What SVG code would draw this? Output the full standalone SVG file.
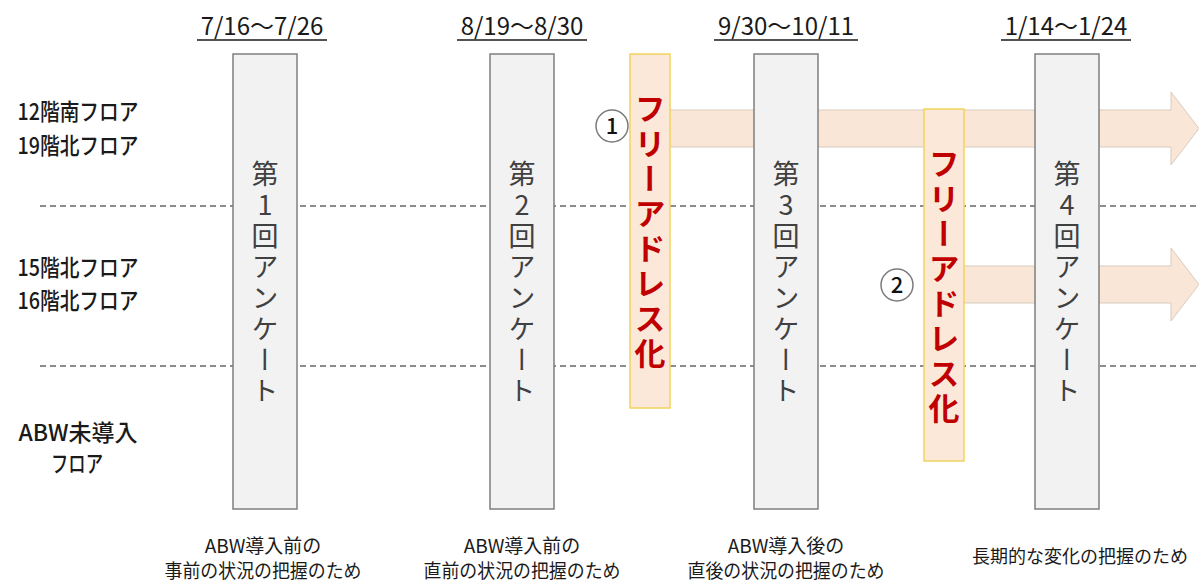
<svg xmlns="http://www.w3.org/2000/svg" width="1199" height="583" viewBox="0 0 1199 583">
<style>
text{font-family:"Noto Sans CJK JP","Noto Sans",sans-serif;}
.lbl{font-size:23px;font-weight:500;fill:#1a1a1a;text-anchor:middle;}
.date{font-size:24px;fill:#1a1a1a;text-anchor:middle;}
.bot{font-size:19px;fill:#1a1a1a;text-anchor:middle;}
.dash{stroke:#8c8c8c;stroke-width:2;stroke-dasharray:6 4;fill:none;}
.survey rect{fill:#f2f2f2;stroke:#7f7f7f;stroke-width:1.5;}
.survey text{font-size:27px;fill:#404040;writing-mode:vertical-rl;text-orientation:upright;text-anchor:middle;letter-spacing:4px;}
.free rect{fill:#fbe8d9;stroke:#f2d35c;stroke-width:1.5;}
.free text{font-size:31px;font-weight:bold;fill:#c00000;writing-mode:vertical-rl;text-orientation:upright;text-anchor:middle;letter-spacing:4px;}
.arrow{fill:#fae6d6;stroke:#d8cbbf;stroke-width:1;}
.num circle{fill:#fff;stroke:#7a7a7a;stroke-width:1.5;}
.num text{font-size:22px;font-weight:500;fill:#111;text-anchor:middle;}
</style>
<g id="grid">
<line class="dash" x1="40" y1="206" x2="1199" y2="206"/>
<line class="dash" x1="40" y1="366" x2="1199" y2="366"/>
</g>
<g id="row-labels">
<text class="lbl" x="78" y="120" textLength="121" lengthAdjust="spacingAndGlyphs">12階南フロア</text>
<text class="lbl" x="78" y="154" textLength="121" lengthAdjust="spacingAndGlyphs">19階北フロア</text>
<text class="lbl" x="78" y="276" textLength="121" lengthAdjust="spacingAndGlyphs">15階北フロア</text>
<text class="lbl" x="78" y="309" textLength="121" lengthAdjust="spacingAndGlyphs">16階北フロア</text>
<text class="lbl" x="78" y="441" textLength="119" lengthAdjust="spacingAndGlyphs">ABW未導入</text>
<text class="lbl" x="77" y="472" textLength="52" lengthAdjust="spacingAndGlyphs">フロア</text>
</g>
<g id="connectors">
<path class="arrow" d="M660,110 H1171 V92 L1199,128.5 L1171,165 V147 H660 Z"/>
<path class="arrow" d="M955,266 H1171 V248 L1199,284.5 L1171,321 V303 H955 Z"/>
</g>
<g id="dates">
<text class="date" x="262" y="35">7/16～7/26</text>
<line x1="197" y1="40" x2="327" y2="40" stroke="#1a1a1a" stroke-width="1.5"/>
<text class="date" x="522" y="35">8/19～8/30</text>
<line x1="457" y1="40" x2="587" y2="40" stroke="#1a1a1a" stroke-width="1.5"/>
<text class="date" x="786" y="35">9/30～10/11</text>
<line x1="714" y1="40" x2="858" y2="40" stroke="#1a1a1a" stroke-width="1.5"/>
<text class="date" x="1066" y="35">1/14～1/24</text>
<line x1="1001" y1="40" x2="1131" y2="40" stroke="#1a1a1a" stroke-width="1.5"/>
</g>
<g id="survey1" class="survey">
<rect x="233" y="54" width="64" height="455"/>
<text x="265" y="284">第1回アンケート</text>
</g>
<g id="survey2" class="survey">
<rect x="490" y="54" width="64" height="455"/>
<text x="522" y="284">第2回アンケート</text>
</g>
<g id="survey3" class="survey">
<rect x="754" y="54" width="64" height="455"/>
<text x="786" y="284">第3回アンケート</text>
</g>
<g id="survey4" class="survey">
<rect x="1035" y="54" width="64" height="455"/>
<text x="1067" y="284">第4回アンケート</text>
</g>
<g id="free1" class="free">
<rect x="630" y="54" width="40" height="354"/>
<text x="650" y="233">フリーアドレス化</text>
</g>
<g id="free2" class="free">
<rect x="924" y="109" width="40" height="352"/>
<text x="944" y="288">フリーアドレス化</text>
</g>
<g id="num1" class="num">
<circle cx="612" cy="126" r="16"/>
<text x="612" y="134">1</text>
</g>
<g id="num2" class="num">
<circle cx="897" cy="285" r="16"/>
<text x="897" y="293">2</text>
</g>
<g id="purposes">
<text class="bot" x="263" y="553">ABW導入前の</text>
<text class="bot" x="263" y="578" textLength="197" lengthAdjust="spacingAndGlyphs">事前の状況の把握のため</text>
<text class="bot" x="522" y="553">ABW導入前の</text>
<text class="bot" x="522" y="578" textLength="197" lengthAdjust="spacingAndGlyphs">直前の状況の把握のため</text>
<text class="bot" x="786" y="553">ABW導入後の</text>
<text class="bot" x="786" y="578" textLength="197" lengthAdjust="spacingAndGlyphs">直後の状況の把握のため</text>
<text class="bot" x="1080" y="563" style="font-size:18px">長期的な変化の把握のため</text>
</g>
</svg>
